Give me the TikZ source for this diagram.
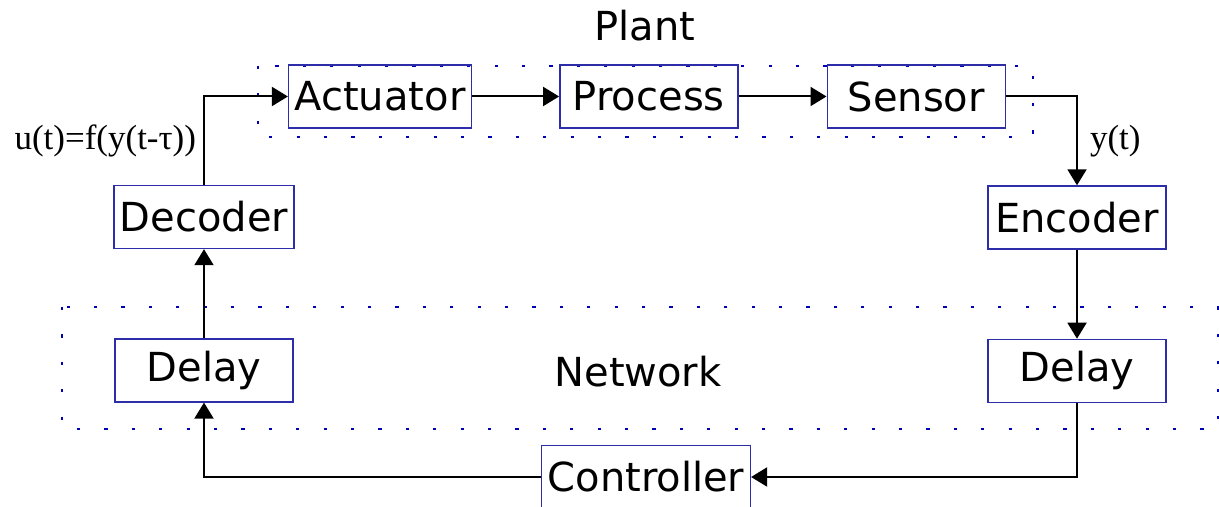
\documentclass[tikz,border=0pt]{standalone}
\usepackage{fontspec}
\setmainfont{DejaVu Sans}
\newfontfamily\lblfont{Liberation Serif}
\usepackage{tikz}
\usetikzlibrary{positioning,arrows.meta}
\definecolor{boxblue}{RGB}{45,45,170}
\definecolor{dotblue}{RGB}{0,0,180}
\tikzset{
  >={Triangle[length=8pt,width=9.5pt]},
  blk/.style={draw=boxblue,line width=0.7pt,minimum width=89pt,
    minimum height=31.5pt,inner xsep=3pt,inner ysep=3pt},
  flow/.style={->,line width=1pt,black},
  frame/.style={dotblue,line width=1.1pt,dash pattern=on 1.6pt off 12.1pt},
  sig/.style={font=\lblfont\fontsize{17.5pt}{20pt}\selectfont,inner sep=2pt},
}

\begin{document}
\begin{tikzpicture}[x=0.5pt,y=-0.5pt,
  every node/.style={font=\fontsize{20pt}{24pt}\selectfont}]
  \path[use as bounding box,clip] (0,0) rectangle (1219,507);
  % plant and network regions
  \draw[frame] (258,66) rectangle (1033,137);
  \draw[frame] (62,307) rectangle (1218,429);
  \node (plant) at (645,26) {Plant};
  \node (net) at (638,372) {Network};
  % plant chain
  \node[blk] (act) at (380,96.5) {Actuator};
  \node[blk,right=43.5pt of act] (proc) {Process};
  \node[blk,right=44pt of proc] (sens) {Sensor};
  % left and right branches
  \node[blk] (dec) at (204,217) {Decoder};
  \node[blk,below=44.5pt of dec] (dlyl) {Delay};
  \node[blk] (enc) at (1077,217.5) {Encoder};
  \node[blk,below=44.5pt of enc] (dlyr) {Delay};
  \node[blk,minimum width=0pt] (ctrl) at (646,477) {Controller};
  % signal flow
  \draw[flow] (act) -- (proc);
  \draw[flow] (proc) -- (sens);
  \draw[flow] (sens.east) -| node[sig,pos=0.75,right=4pt] {y(t)} (enc.north);
  \draw[flow] (enc) -- (dlyr);
  \draw[flow] (dlyr.south) |- (ctrl.east);
  \draw[flow] (ctrl.west) -| (dlyl.south);
  \draw[flow] (dlyl) -- (dec);
  \draw[flow] (dec.north) |- node[sig,pos=0.25,left=1.5pt] {u(t)=f(y(t-τ))} (act.west);
\end{tikzpicture}
\end{document}
